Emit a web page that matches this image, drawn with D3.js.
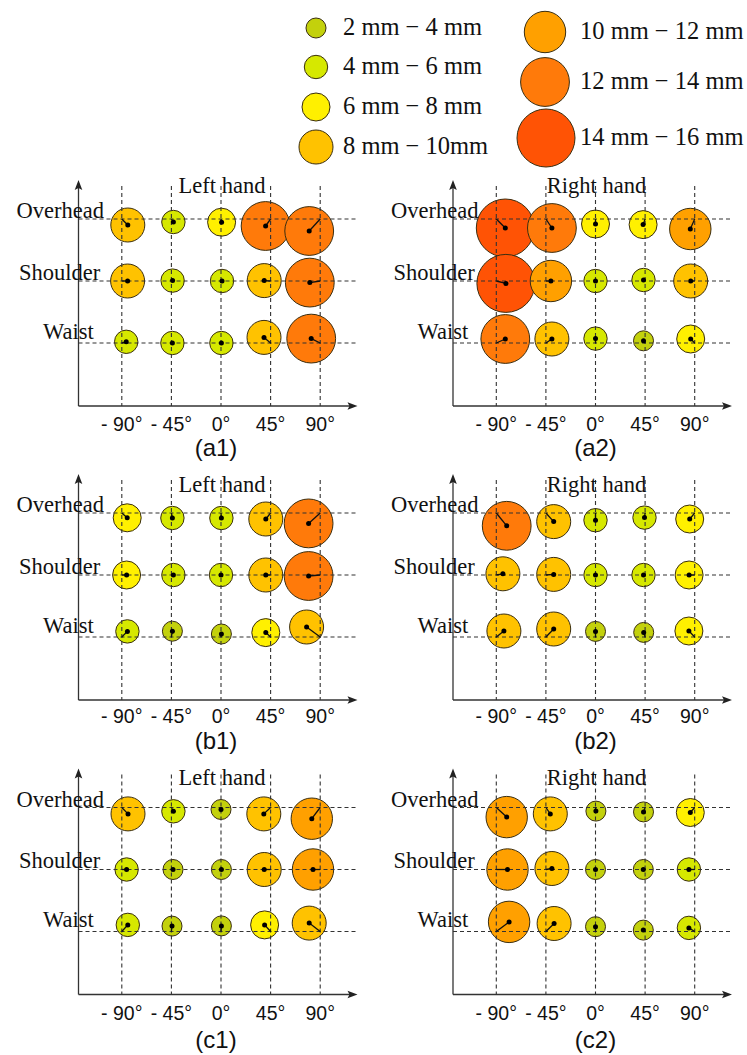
<!DOCTYPE html>
<html>
<head>
<meta charset="utf-8">
<script src="https://cdn.jsdelivr.net/npm/d3@7/dist/d3.min.js"></script>
<style>
  html, body { margin: 0; padding: 0; background: #fff; }
  svg { display: block; }
</style>
</head>
<body>
<svg id="chart" width="747" height="1055"></svg>
<script>
// ---------------- DATA ----------------
const rowNames = ["Overhead", "Shoulder", "Waist"];
const angles = [-90, -45, 0, 45, 90];
const angleTickLabels = ["- 90°", "- 45°", "0°", "45°", "90°"];
const sizeClasses = [2, 4, 6, 8, 10, 12, 14];          // lower bound of the diameter class (mm)
const legendLabels = ["2 mm − 4 mm", "4 mm − 6 mm", "6 mm − 8 mm", "8 mm − 10mm",
                      "10 mm − 12 mm", "12 mm − 14 mm", "14 mm − 16 mm"];
const panelIds = ["a1", "a2", "b1", "b2", "c1", "c2"];
const handTitles = ["Left hand", "Right hand", "Left hand", "Right hand", "Left hand", "Right hand"];

// size class per cell: rows = Overhead, Shoulder, Waist; cols = -90,-45,0,45,90
const a1Class = [[8, 4, 6, 12, 12], [8, 4, 4, 8, 12], [4, 4, 4, 8, 12]];
const a2Class = [[14, 12, 6, 6, 10], [14, 10, 4, 4, 8], [12, 8, 4, 2, 6]];
const b1Class = [[6, 4, 4, 8, 12], [6, 4, 4, 8, 12], [4, 2, 2, 6, 8]];
const b2Class = [[12, 8, 4, 4, 6], [8, 8, 4, 4, 6], [8, 8, 2, 2, 6]];
const c1Class = [[8, 4, 2, 8, 10], [4, 2, 2, 8, 10], [4, 2, 2, 6, 8]];
const c2Class = [[10, 8, 2, 2, 6], [10, 8, 2, 2, 4], [10, 8, 2, 2, 4]];

// mean offset [dx, dy] (mm) of the circle centre from the target point (dy positive = downward)
const a1Offset = [[[3, 3], [1, 1.5], [0.3, 1.6], [-2.5, 3.5], [-5.5, 6]],
                  [[2.9, 0], [0.6, -0.2], [0.5, 0], [-3.2, -0.2], [-5.2, 0.8]],
                  [[2.2, -0.6], [0.5, 0], [0.2, 0], [-3.3, -2.8], [-4.5, -2.2]]];
const a2Offset = [[[4.5, 4.5], [3, 4.5], [0, 2.5], [-1, 2.8], [-2.2, 5]],
                  [[4.8, 1.2], [2.5, 0], [0, 0], [-0.8, -0.5], [-2, 0]],
                  [[4.5, -2], [3, -2], [0, -2.2], [-0.8, -1.1], [-2, -2]]];
const b1Offset = [[[2.7, 2.4], [0.5, 2.5], [0.2, 2.5], [-2.4, 3], [-5.8, 5.2]],
                  [[2.4, 0], [1, 0], [0, 0], [-2.4, 0], [-5.8, 0.5]],
                  [[2.8, -2.8], [0.5, -2.9], [0.2, -1.5], [-2.4, -2.2], [-6.8, -5]]];
const b2Offset = [[[5.2, 6.4], [3.9, 4.3], [0, 3.6], [-0.3, 2.3], [-2.5, 3]],
                  [[3.3, -0.6], [3.9, -0.3], [0, 0], [-0.8, 0], [-2.8, 0]],
                  [[3.8, -3], [3.9, -4], [0, -2.8], [-0.7, -2.3], [-2.9, -3]]];
const c1Offset = [[[3.1, 3.2], [1, 1.9], [0, 1], [-3.4, 3.2], [-4.2, 5.6]],
                  [[2.4, 0], [0.8, 0], [0.2, 0], [-3.2, 0], [-3.6, 0]],
                  [[3, -3.3], [0.3, -2.7], [0.2, -2.8], [-3, -3.3], [-5.5, -4.2]]];
const c2Offset = [[[5.2, 4.8], [2.2, 3.2], [0.2, 1.8], [-0.8, 2.2], [-2.2, 2.5]],
                  [[5.6, 0], [3, -0.5], [0, 0], [-0.9, 0], [-2.9, 0]],
                  [[6.4, -4.8], [4.1, -4], [0, -2.4], [-0.9, -0.7], [-2.9, -1.8]]];

const panelClasses = [a1Class, a2Class, b1Class, b2Class, c1Class, c2Class];
const panelOffsets = [a1Offset, a2Offset, b1Offset, b2Offset, c1Offset, c2Offset];

// ---------------- STYLE / LAYOUT ----------------
const classColors = ["#c3d10c", "#d6e800", "#fff000", "#ffc200", "#ffa000", "#ff7a0a", "#ff5305"];
const classRadii = [10, 11.7, 14, 17, 20.7, 24.4, 29];
const colAxisX = [78.5, 453];
const rowTopY = [219, 513, 807.5];
const titleDy = [-26.5, -21.5, -22.5];
const tickDy = [25, 22.5, 25.5];
const panelLabelDy = [50, 48.5, 53];
const rowLabelDx = [-62, -59.5, -35.5];
const rowLabelDy = [-1, -1.5, -4.5];
const serif = "'Liberation Serif', 'Times New Roman', serif";
const sans = "'Liberation Sans', Arial, sans-serif";

const radius = d3.scaleOrdinal().domain(sizeClasses).range(classRadii);
const color = d3.scaleOrdinal().domain(sizeClasses).range(classColors);
const offsetPx = d3.scaleLinear().domain([0, 1]).range([0, 2]);   // 2 px per mm

const svg = d3.select("#chart");

// ---------------- LEGEND ----------------
const legendPos = [[316, 28], [316, 67], [316, 107], [316, 147], [545, 32], [545, 82], [546, 138]];
const legendTextX = [343, 343, 343, 343, 580, 580, 580];
const legend = svg.append("g");
sizeClasses.forEach((c, i) => {
  legend.append("circle")
    .attr("cx", legendPos[i][0]).attr("cy", legendPos[i][1])
    .attr("r", radius(c))
    .attr("fill", color(c)).attr("stroke", "#3a2e10").attr("stroke-width", 1);
  legend.append("text")
    .attr("x", legendTextX[i]).attr("y", legendPos[i][1] + 7)
    .attr("font-family", serif).attr("font-size", 24.5)
    .attr("fill", "#111")
    .text(legendLabels[i]);
});

// ---------------- PANELS ----------------
panelIds.forEach((pid, p) => {
  const col = p % 2, row = Math.floor(p / 2);
  const ax = colAxisX[col];
  const y0 = rowTopY[row];
  const axisY = y0 + 187;
  const topY = y0 - 39;
  const rightX = ax + 279;

  const x = d3.scaleLinear().domain([-90, 90]).range([ax + 43.3, ax + 43.3 + 198.4]);
  const y = d3.scalePoint().domain(rowNames).range([y0, y0 + 124]);

  const g = svg.append("g");

  // axes
  g.append("line").attr("x1", ax).attr("y1", axisY).attr("x2", ax).attr("y2", topY + 4)
    .attr("stroke", "#333").attr("stroke-width", 1.3);
  g.append("line").attr("x1", ax).attr("y1", axisY).attr("x2", rightX - 4).attr("y2", axisY)
    .attr("stroke", "#333").attr("stroke-width", 1.3);
  g.append("path")
    .attr("d", `M${ax},${topY} L${ax - 3.8},${topY + 10} L${ax},${topY + 8} L${ax + 3.8},${topY + 10} Z`)
    .attr("fill", "#222");
  g.append("path")
    .attr("d", `M${rightX},${axisY} L${rightX - 10},${axisY - 3.8} L${rightX - 8},${axisY} L${rightX - 10},${axisY + 3.8} Z`)
    .attr("fill", "#222");

  // cells
  const cells = [];
  rowNames.forEach((rn, ri) => {
    angles.forEach((a, ci) => {
      cells.push({
        gx: x(a), gy: y(rn),
        cls: panelClasses[p][ri][ci],
        dx: panelOffsets[p][ri][ci][0],
        dy: panelOffsets[p][ri][ci][1]
      });
    });
  });

  // circles
  g.selectAll("circle.cell").data(cells).enter().append("circle")
    .attr("class", "cell")
    .attr("cx", d => d.gx + offsetPx(d.dx))
    .attr("cy", d => d.gy + offsetPx(d.dy))
    .attr("r", d => radius(d.cls))
    .attr("fill", d => color(d.cls))
    .attr("stroke", "#3a2e10").attr("stroke-width", 1);

  // dashed grid on top
  angles.forEach(a => {
    g.append("line").attr("x1", x(a)).attr("x2", x(a)).attr("y1", y0 - 33).attr("y2", axisY)
      .attr("stroke", "#333").attr("stroke-width", 1.1).attr("stroke-dasharray", "4,3");
  });
  rowNames.forEach(rn => {
    g.append("line").attr("x1", ax).attr("x2", rightX).attr("y1", y(rn)).attr("y2", y(rn))
      .attr("stroke", "#333").attr("stroke-width", 1.1).attr("stroke-dasharray", "4,3");
  });

  // displacement lines and centre dots
  g.selectAll("line.disp").data(cells).enter().append("line")
    .attr("class", "disp")
    .attr("x1", d => d.gx).attr("y1", d => d.gy)
    .attr("x2", d => d.gx + offsetPx(d.dx)).attr("y2", d => d.gy + offsetPx(d.dy))
    .attr("stroke", "#111").attr("stroke-width", 1.3);
  g.selectAll("circle.dot").data(cells).enter().append("circle")
    .attr("class", "dot")
    .attr("cx", d => d.gx + offsetPx(d.dx))
    .attr("cy", d => d.gy + offsetPx(d.dy))
    .attr("r", 2.5).attr("fill", "#000");

  // row labels
  rowNames.forEach((rn, ri) => {
    g.append("text")
      .attr("x", ax + rowLabelDx[ri]).attr("y", y(rn) + rowLabelDy[ri])
      .attr("font-family", serif).attr("font-size", 22.5).attr("fill", "#111")
      .text(rn);
  });

  // title
  g.append("text")
    .attr("x", x(0) + 1).attr("y", y0 + titleDy[row])
    .attr("text-anchor", "middle")
    .attr("font-family", serif).attr("font-size", 22.5).attr("fill", "#111")
    .text(handTitles[p]);

  // angle tick labels
  angles.forEach((a, i) => {
    g.append("text")
      .attr("x", x(a)).attr("y", axisY + tickDy[row])
      .attr("text-anchor", "middle")
      .attr("font-family", sans).attr("font-size", 19.5).attr("fill", "#111")
      .text(angleTickLabels[i]);
  });

  // panel label
  g.append("text")
    .attr("x", x(0) - (col === 0 ? 5 : 0)).attr("y", axisY + panelLabelDy[row])
    .attr("text-anchor", "middle")
    .attr("font-family", sans).attr("font-size", 24).attr("fill", "#111")
    .text("(" + pid + ")");
});
</script>
</body>
</html>
